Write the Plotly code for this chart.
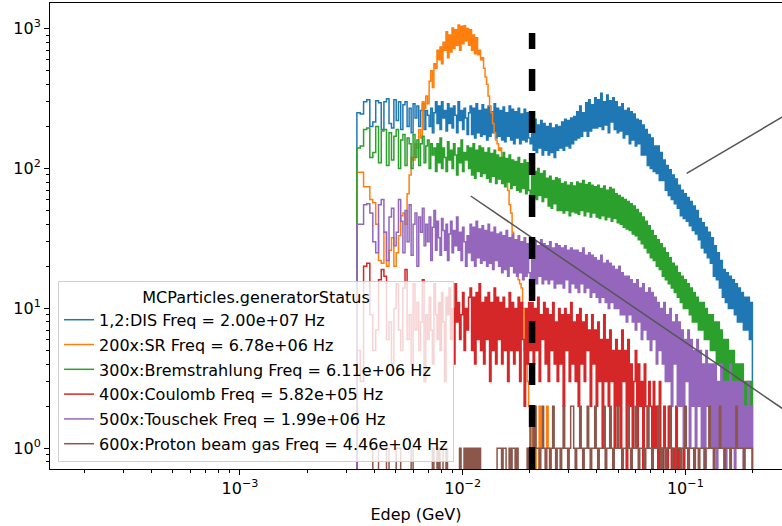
import numpy as np
import plotly.graph_objects as go

# Histogram binning of the deposited energy (GeV):
# fixed-width bins at low energy, then log-spaced bins up to 0.2 GeV
EDGE_LO = 0.00335
LIN_WIDTH = 1.2e-4
N_LIN = 36
EDGE_HI = 0.2
N_LOG = 210
lin_edges = EDGE_LO + LIN_WIDTH * np.arange(N_LIN + 1)
log_edges = np.geomspace(lin_edges[-1], EDGE_HI, N_LOG + 1)
edges = np.concatenate([lin_edges, log_edges[1:]])

labels = [
    "1,2:DIS Freq = 2.00e+07 Hz",
    "200x:SR Freq = 6.78e+06 Hz",
    "300x:Bremstrahlung Freq = 6.11e+06 Hz",
    "400x:Coulomb Freq = 5.82e+05 Hz",
    "500x:Touschek Freq = 1.99e+06 Hz",
    "600x:Proton beam gas Freq = 4.46e+04 Hz",
]
colors = ["#1f77b4", "#ff7f0e", "#2ca02c", "#d62728", "#9467bd", "#8c564b"]

dis_counts = [
    250, 245, 300, 310, 200, 215, 305, 295, 190, 300,
    315, 210, 195, 310, 220, 300, 190, 285, 300, 200,
    270, 180, 290, 230, 280, 200, 260, 290, 190, 260,
    240, 200, 270, 180, 250, 300,
    210, 280, 190, 300, 230, 260, 185, 290, 210, 270,
    195, 280, 240, 180, 300, 220, 260, 190, 270, 230, 175, 250,
    280, 175, 270, 165, 290, 180, 260, 170, 285, 175,
    265, 160, 280, 170, 255, 180, 290, 165, 270, 170,
    260, 160, 275, 155, 250, 170, 280, 160, 265, 150,
    255, 165, 270, 150, 245, 160, 265, 155, 250, 165, 150,
    215, 135, 225, 130, 205, 140, 220, 125, 210, 135,
    200, 125, 210, 130, 195, 120, 205, 135, 200,
    140, 215, 135, 225, 145, 220, 140, 230, 150, 235,
    160, 255, 165, 280, 170, 250, 185, 295, 170, 310, 185, 285, 195,
    320, 195, 310, 200, 345, 190, 300, 205, 335, 180, 305, 215, 320, 190,
    300, 180, 275, 185, 290, 165, 260, 175, 270, 150, 255, 160,
    245, 145, 225, 150, 220, 125, 205, 125, 190, 105, 175,
    100, 165, 95, 145, 92, 145, 82, 130, 82, 115, 70,
    105, 64, 98, 60, 90, 56, 84, 52, 76,
    46, 70, 44, 66, 42, 62, 39, 58, 36, 54, 34, 50, 31,
    44, 27, 41, 25, 38, 23, 35, 21, 32,
    17, 28, 16, 25, 14, 22,
    12, 19, 11, 18, 10, 17, 10, 16, 9, 15, 8, 14,
    8, 13, 7, 12, 7, 12, 6, 11,
]
sr_counts = [
    94, 94, 74, 74, 60, 57, 40, 22, 21, 35,
    20, 26, 32, 20, 25, 33, 46, 48, 40, 66,
    90, 120, 115, 150, 140, 190, 165, 300, 270, 330,
    290, 420, 500, 380, 560, 520,
    700, 600, 740, 560, 800, 700, 950, 620, 900, 680,
    1010, 720, 980, 760, 1060, 700, 1040, 780, 1050, 820, 1000, 760,
    980, 700, 900, 660, 860, 650, 700, 600, 620, 520,
    450, 400, 330, 280, 250, 210, 180, 160, 150, 135,
    140, 120, 110, 100, 85, 70, 55, 48, 35, 26,
    22, 20, 16, 15, 14, 10, 5, 4, 3, 2, 1,
    2, 0, 1, 0, 0, 2, 0, 0, 0, 0,
    2, 1, 0, 0, 0, 0, 0, 0, 0,
    0, 0, 0, 0, 0, 0, 0, 0, 0, 0,
    0, 0, 0, 0, 0, 0, 0, 0, 0, 0, 0, 0, 0,
    0, 0, 0, 0, 0, 0, 0, 0, 0, 0, 0, 0, 0, 0,
    0, 0, 0, 0, 0, 0, 0, 0, 0, 0, 0, 0,
    0, 0, 0, 0, 0, 0, 0, 0, 0, 0, 0,
    0, 0, 0, 0, 0, 0, 0, 0, 0, 0, 0,
    0, 0, 0, 0, 0, 0, 0, 0, 0,
    0, 0, 0, 0, 0, 0, 0, 0, 0, 0, 0, 0, 0,
    0, 0, 0, 0, 0, 0, 0, 0, 0,
    0, 0, 0, 0, 0, 0,
    0, 0, 0, 0, 0, 0, 0, 0, 0, 0, 0, 0,
    0, 0, 0, 0, 0, 0, 0, 0,
]
brems_counts = [
    140, 145, 190, 195, 120, 130, 200, 110, 185, 190,
    105, 180, 115, 170, 190, 100, 160, 175, 105, 165,
    150, 100, 175, 120, 160, 105, 150, 170, 110, 145,
    160, 100, 150, 125, 140, 95,
    150, 110, 165, 100, 140, 120, 95, 155, 115, 135,
    100, 150, 125, 90, 140, 110, 160, 95, 130, 115, 145, 100,
    140, 90, 150, 85, 135, 95, 145, 88, 140, 92,
    130, 85, 140, 80, 128, 88, 135, 78, 125, 84,
    120, 78, 130, 74, 118, 80, 125, 72, 115, 76,
    112, 70, 120, 68, 108, 72, 115, 66, 110, 70, 62,
    98, 62, 95, 60, 100, 64, 92, 58, 96, 62,
    85, 54, 88, 52, 82, 56, 86, 50, 84,
    50, 78, 48, 80, 50, 76, 46, 79, 49, 75,
    48, 80, 47, 78, 50, 82, 46, 77, 49, 79, 45, 76, 48,
    74, 45, 76, 44, 72, 46, 75, 43, 70, 45, 73, 42, 71, 44,
    66, 41, 64, 40, 62, 38, 60, 37, 58, 36, 56, 34,
    54, 33, 51, 31, 48, 29, 45, 27, 42, 25, 39,
    23, 36, 22, 33, 20, 31, 19, 29, 17, 27, 16,
    25, 15, 23, 14, 21, 13, 20, 12, 18,
    11, 17, 10, 16, 10, 15, 9, 14, 8, 13, 8, 12, 7,
    11, 7, 11, 6, 10, 6, 9, 5, 9,
    5, 8, 4, 8, 4, 7,
    3, 6, 3, 6, 3, 5, 2, 5, 2, 4, 2, 4,
    2, 4, 2, 3, 2, 3, 2, 3,
]
coulomb_counts = [
    5, 3, 20, 21, 9, 5, 7, 16, 19, 17,
    6, 8, 4, 10, 15, 7, 5, 14, 19, 6,
    9, 4, 15, 7, 11, 5, 8, 16, 3, 9,
    6, 12, 7, 4, 15, 9,
    6, 11, 5, 13, 8, 3, 12, 9, 14, 6,
    10, 4, 15, 8, 11, 6, 9, 13, 5, 10, 7, 12,
    14, 5, 12, 4, 13, 6, 15, 5, 11, 4,
    12, 6, 13, 3, 11, 5, 14, 4, 12, 6,
    11, 4, 12, 5, 10, 3, 13, 5, 11, 4,
    10, 5, 12, 3, 11, 6, 2, 10, 4, 11, 5,
    11, 4, 10, 5, 12, 3, 9, 6, 11, 4,
    10, 3, 9, 5, 11, 4, 8, 3, 10,
    4, 9, 2, 10, 5, 9, 3, 11, 4, 8,
    3, 9, 2, 10, 4, 8, 3, 9, 5, 7, 2, 9, 4,
    7, 2, 8, 3, 6, 1, 9, 3, 6, 2, 7, 3, 5, 1,
    6, 2, 5, 1, 7, 3, 5, 0, 6, 2, 4, 1,
    3, 5, 1, 4, 2, 3, 0, 4, 2, 1, 3,
    2, 0, 3, 1, 2, 0, 3, 1, 0, 2, 1,
    0, 2, 1, 0, 1, 0, 2, 0, 1,
    0, 0, 1, 0, 0, 1, 0, 0, 0, 1, 0, 0, 0,
    0, 0, 0, 1, 0, 0, 0, 0, 0,
    0, 0, 0, 0, 0, 0,
    0, 0, 0, 0, 0, 0, 0, 0, 0, 0, 0, 0,
    0, 0, 0, 0, 0, 0, 0, 0,
]
touschek_counts = [
    40, 40, 55, 56, 48, 30, 25, 55, 60, 35,
    22, 45, 52, 28, 35, 60, 42, 25, 50, 30,
    55, 24, 40, 48, 20, 45, 35, 52, 28, 40,
    30, 45, 22, 38, 50, 26,
    42, 32, 24, 44, 36, 26, 40, 22, 34, 42,
    25, 36, 28, 45, 26, 35, 22, 38, 30, 20, 33, 25,
    40, 22, 38, 20, 42, 23, 37, 21, 39, 22,
    36, 20, 40, 21, 35, 19, 38, 22, 34, 20,
    35, 18, 33, 19, 36, 17, 32, 20, 34, 18,
    31, 17, 33, 18, 30, 16, 32, 17, 29, 18, 16,
    29, 16, 30, 15, 28, 17, 31, 15, 29, 16,
    28, 15, 30, 16, 27, 14, 29, 15, 28,
    15, 27, 14, 28, 16, 26, 13, 27, 15, 26,
    14, 26, 13, 25, 15, 27, 13, 24, 14, 25, 12, 24, 13,
    23, 12, 22, 11, 24, 12, 21, 11, 22, 10, 21, 11, 20, 10,
    19, 10, 20, 9, 18, 9, 17, 8, 17, 9, 16, 8,
    15, 7, 16, 8, 14, 6, 15, 7, 13, 6, 14,
    5, 13, 6, 12, 4, 11, 5, 10, 4, 11, 3,
    9, 3, 10, 2, 8, 4, 9, 2, 8,
    2, 7, 1, 6, 3, 7, 1, 6, 2, 5, 1, 6, 2,
    5, 1, 4, 0, 5, 2, 4, 1, 4,
    1, 4, 0, 3, 1, 4,
    1, 3, 0, 3, 1, 4, 1, 3, 0, 3, 1, 3,
    1, 3, 0, 2, 1, 3, 1, 2,
]
beamgas_counts = [
    0, 0, 0, 0, 0, 1, 1, 0, 0, 0,
    1, 0, 0, 0, 1, 1, 0, 0, 0, 0,
    0, 1, 0, 0, 0, 0, 0, 0, 0, 0,
    0, 0, 0, 1, 0, 0,
    1, 0, 1, 1, 0, 0, 1, 0, 0, 0,
    0, 0, 0, 0, 0, 1, 0, 0, 1, 0, 1, 0,
    1, 0, 1, 0, 1, 0, 1, 0, 0, 0,
    0, 0, 0, 0, 0, 0, 0, 0, 1, 1,
    1, 0, 1, 1, 0, 0, 1, 0, 1, 1,
    0, 1, 0, 0, 0, 0, 0, 0, 1, 0, 2,
    2, 1, 2, 1, 1, 0, 1, 2, 1, 0,
    1, 1, 0, 1, 2, 1, 0, 1, 1,
    0, 1, 2, 1, 1, 0, 1, 2, 2, 1,
    0, 1, 1, 2, 1, 0, 1, 1, 2, 1, 0, 1, 1,
    2, 1, 0, 1, 1, 1, 2, 0, 1, 1, 2, 1, 0, 1,
    1, 2, 1, 1, 0, 1, 1, 1, 2, 1, 0, 1,
    1, 2, 1, 0, 1, 1, 1, 0, 1, 2, 1,
    1, 0, 1, 1, 1, 2, 1, 0, 1, 1, 0,
    1, 1, 2, 1, 0, 0, 1, 1, 1,
    0, 1, 1, 2, 1, 0, 1, 1, 1, 0, 1, 1, 0,
    1, 1, 1, 0, 1, 1, 2, 1, 1,
    0, 1, 1, 1, 2, 1,
    1, 0, 1, 1, 1, 0, 1, 1, 1, 2, 1, 1,
    1, 1, 0, 1, 1, 1, 1, 1,
]
series_counts = [dis_counts, sr_counts, brems_counts,
                 coulomb_counts, touschek_counts, beamgas_counts]
for counts in series_counts:
    assert len(counts) == len(edges) - 1, len(counts)

# Energy cut marker and the two guide lines
cut_x = 0.0205
cut_y = [0.711, 930]
guide_a_x = [0.01087, 1.0]
guide_a_y = [63.6, 0.47]
guide_b_x = [0.1014, 1.0]
guide_b_y = [92.4, 790]

FLOOR = 1e-2  # empty bins fall below the visible log range


def step_outline(counts):
    xs = [edges[0]] + list(edges[:-1]) + [edges[-1]]
    ys = [FLOOR] + [c if c > 0 else FLOOR for c in counts] + [FLOOR]
    return xs, ys


fig = go.Figure()
for i in range(len(labels)):
    xs, ys = step_outline(series_counts[i])
    fig.add_trace(go.Scatter(
        x=xs, y=ys, mode="lines", name=labels[i],
        line=dict(color=colors[i], width=1.5, shape="hv", simplify=False),
        legendgroup=labels[i],
    ))

fig.add_trace(go.Scatter(x=guide_a_x, y=guide_a_y, mode="lines", showlegend=False,
                         line=dict(color="#555555", width=1.5)))
fig.add_trace(go.Scatter(x=guide_b_x, y=guide_b_y, mode="lines", showlegend=False,
                         line=dict(color="#555555", width=1.5)))
fig.add_trace(go.Scatter(x=[cut_x, cut_x], y=cut_y, mode="lines", showlegend=False,
                         line=dict(color="black", width=6.5, dash="22px,20px")))

font = dict(family="DejaVu Sans", size=16, color="black")


def sup(e):
    return "10<sup>" + str(e).replace("-", "\u2212") + "</sup>"


x_minor = [m * 10.0 ** p for p in (-4, -3, -2, -1) for m in range(2, 10)]
y_minor = [m * 10.0 ** p for p in (-1, 0, 1, 2) for m in range(2, 10)]

axis_common = dict(
    type="log", showline=True, linecolor="black", linewidth=1,
    ticks="outside", ticklen=5, tickwidth=1, tickcolor="black",
    showgrid=False, zeroline=False, tickfont=font, tickmode="array",
)

fig.update_layout(
    width=782, height=526,
    margin=dict(l=50, r=0, t=3, b=57),
    paper_bgcolor="white", plot_bgcolor="white",
    font=font,
    xaxis=dict(
        **axis_common, range=[-3.853, -0.566], mirror=True,
        tickvals=[1e-3, 1e-2, 1e-1], ticktext=[sup(-3), sup(-2), sup(-1)],
        minor=dict(ticks="outside", ticklen=3, tickwidth=1, tickcolor="black",
                   tickmode="array", tickvals=x_minor, showgrid=False),
        title=dict(text="Edep (GeV)", font=font, standoff=11),
    ),
    yaxis=dict(
        **axis_common, range=[-0.148, 3.183], mirror=False,
        tickvals=[1, 10, 100, 1000], ticktext=[sup(0), sup(1), sup(2), sup(3)],
        minor=dict(ticks="outside", ticklen=3, tickwidth=1, tickcolor="black",
                   tickmode="array", tickvals=y_minor, showgrid=False),
    ),
    legend=dict(
        x=0.011, y=0.015, xanchor="left", yanchor="bottom",
        bgcolor="rgba(255,255,255,0.8)", bordercolor="rgba(204,204,204,0.9)",
        borderwidth=1, font=font, traceorder="grouped", tracegroupgap=1,
        title=dict(text="MCParticles.generatorStatus", side="top center", font=font),
    ),
)

fig.write_html("out.html")
